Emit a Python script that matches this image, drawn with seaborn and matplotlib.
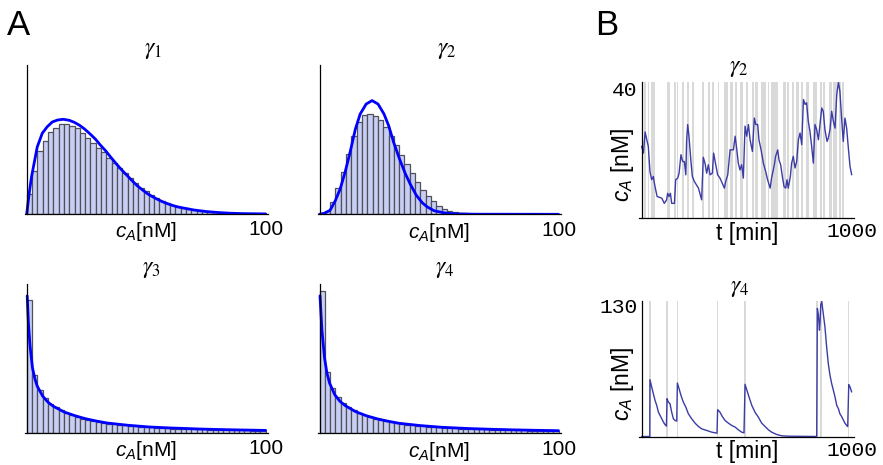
import matplotlib
matplotlib.use("Agg")
import matplotlib.pyplot as plt
import seaborn as sns

# ---------------- data ----------------
C_MAX = 100          # nM, histogram range
N_BINS = 45

# A: histogram heights (a.u.), one value per bin from 0 to 100 nM
hist_g1 = [20, 42.7, 63, 73, 82.3, 86.3, 89.7, 89.7, 88, 86.3,
           81.3, 76.3, 71.3, 66.3, 62.3, 56.3, 51.3, 46.3, 41.3, 35.7,
           30.7, 26.3, 23, 19, 16.3, 13, 10.7, 9, 7.3, 6,
           5, 4.2, 3.4, 2.8, 2.2, 1.7, 1.3, 1, 0.8, 0.6,
           0.4, 0.3, 0.2, 0.1, 0.1]
hist_g2 = [0.5, 3, 12, 26, 42, 60, 78, 92, 99.5, 100,
           98.5, 94, 87, 77.7, 69, 59.3, 50.5, 41, 32, 24.5,
           18, 13, 8.5, 5.5, 3.7, 2.4, 1.7, 1.1, 0.7, 0.4,
           0.3, 0.2, 0.1, 0.1, 0, 0, 0, 0, 0, 0,
           0, 0, 0, 0, 0]
hist_g3 = [132.7, 57.7, 43.3, 35, 29.3, 26, 22.7, 20, 17.7, 16,
           14.3, 13, 12, 11, 10, 9.3, 8.7, 8, 7.7, 7,
           6.7, 6.3, 6, 5.7, 5.3, 5, 4.7, 4.3, 4.3, 4.2,
           4.0, 3.8, 3.7, 3.5, 3.3, 3.2, 3.0, 2.9, 2.8, 2.7,
           2.6, 2.5, 2.4, 2.3, 2.2]
hist_g4 = [141.7, 61, 45, 36, 30, 26, 22.7, 20, 18, 16,
           14.7, 13.3, 12, 11, 10, 9.3, 8.7, 8, 7.7, 7,
           6.7, 6.3, 6, 5.7, 5.3, 5, 4.7, 4.3, 4.3, 4.2,
           4.0, 3.8, 3.7, 3.5, 3.3, 3.2, 3.0, 2.9, 2.8, 2.7,
           2.6, 2.5, 2.4, 2.3, 2.2]

# A: fitted densities (a.u.)
fit_g1_x = [0, 1, 2, 4.4, 6.5, 8.6, 10.7, 12.9, 15.3, 17.8, 19.9, 22.1, 24.2, 26.4,
            28.7, 30.8, 33.1, 35.2, 37.3, 39.5, 41.8, 44.1, 46.2, 48.5, 50.7, 53.1,
            55.3, 57.4, 59.6, 61.8, 64, 70, 75, 80, 85, 90, 100]
fit_g1_y = [0, 20, 37, 67, 80.7, 87.3, 92, 94, 94.7, 93.7, 91.7, 88.7, 85, 80.3,
            75, 69, 63, 56.7, 50.7, 44.7, 39, 33.3, 28.3, 24, 20, 16.7,
            14, 11.7, 9.7, 8, 6.7, 4, 2.5, 1.5, 0.8, 0.4, 0.1]
fit_g2_x = [0, 2, 4.4, 6.5, 8.6, 10.7, 12.8, 15, 17, 19.5, 22, 24.5, 27, 29, 31,
            33.5, 36, 38, 40.5, 43, 45, 48, 52, 56, 65, 100]
fit_g2_y = [0, 1, 4, 13, 25, 42, 62, 85, 100, 110, 113.5, 110, 100, 88, 72,
            55, 40, 30, 19, 11.5, 7.5, 3.5, 1.5, 0.5, 0.1, 0]
fit_g3_x = [0.2, 0.7, 1.4, 2.4, 3.5, 4.4, 6.7, 8.9, 11.1, 15.6, 20.1, 24.5, 29,
            33.5, 42.4, 51.3, 60.2, 64.1, 72, 80, 90, 100]
fit_g3_y = [136.7, 110, 86.7, 65, 53.3, 46.7, 36.7, 30.7, 26.7, 21, 17.3, 14.3, 12,
            10, 7.7, 6, 5, 4.7, 4.0, 3.5, 3.0, 2.6]
fit_g4_x = [0.2, 1.0, 2.1, 3.1, 4.2, 6.4, 8.6, 10.9, 15.3, 19.8, 24.3, 28.7, 33.2,
            42.1, 51.1, 60, 62.8, 72, 80, 90, 100]
fit_g4_y = [136.7, 103, 75, 60, 50, 38.3, 31.7, 27.3, 21.3, 17.3, 14.3, 12, 10,
            7.7, 6, 5, 4.7, 4.0, 3.5, 3.0, 2.6]

# B: trajectories c_A(t), t in min
traj_g2_t = [0, 9, 17, 25, 32, 40, 48, 56, 61, 67, 74, 88, 96, 108, 119, 124, 130,
             137, 143, 156, 162, 172, 178, 187, 195, 203, 210, 214, 219, 225, 235,
             241, 251, 270, 285, 293, 301, 309, 317, 325, 336, 342, 352, 361, 372,
             383, 393, 399, 409, 420, 436, 444, 451, 459, 467, 475, 483, 491, 499,
             507, 515, 526, 535, 542, 551, 557, 567, 578, 589, 598, 610, 617, 630,
             636, 646, 652, 660, 668, 676, 684, 690, 696, 706, 712, 720, 728, 736,
             744, 752, 760, 768, 776, 783, 791, 799, 807, 815, 823, 831, 839, 848,
             855, 862, 870, 880, 886, 894, 902, 910, 918, 926, 934, 941, 949, 957,
             965, 973, 981, 989, 997]
traj_g2_c = [22.2, 20.1, 26.6, 24.2, 22.2, 14.4, 11.9, 12.9, 10.8, 8.8, 6.7, 6.4,
             6.2, 4.6, 5.7, 7.7, 6.7, 7.7, 4.6, 4.6, 11.9, 12.4, 13.9, 19.6, 17.5,
             17.5, 13.4, 24.2, 28.9, 25.3, 17.0, 12.9, 11.3, 9.3, 5.7, 18.8, 17.0,
             13.9, 16.5, 13.4, 13.9, 20.1, 16.5, 13.4, 12.4, 10.8, 9.3, 11.3, 13.4,
             21.1, 21.1, 25.3, 21.7, 17.0, 14.9, 16.5, 12.4, 28.4, 25.3, 28.9, 24.2,
             20.6, 30.9, 28.9, 28.9, 24.2, 21.1, 17.0, 14.4, 11.9, 9.3, 12.4, 16.5,
             19.1, 21.1, 18.0, 16.5, 12.9, 9.8, 9.3, 11.9, 9.3, 12.9, 17.0, 19.1,
             15.5, 17.5, 24.2, 26.3, 22.7, 36.6, 35.1, 35.6, 29.9, 26.8, 22.2, 17.0,
             28.9, 27.3, 24.2, 29.9, 34.0, 33.0, 27.3, 23.7, 24.7, 27.3, 33.0, 29.9,
             27.8, 38.1, 42.0, 39.2, 30.9, 23.7, 30.9, 27.8, 21.7, 16.0, 13.4]
on_g2 = [(0, 9), (13, 21), (29, 36), (45, 64), (119, 135), (156, 162), (167, 172),
         (190, 203), (217, 225), (238, 251), (285, 298), (317, 325), (333, 345),
         (361, 368), (393, 412), (420, 436), (444, 452), (467, 479), (496, 507),
         (523, 532), (538, 551), (567, 589), (598, 605), (614, 649), (673, 684),
         (689, 700), (712, 725), (735, 747), (756, 767), (779, 794), (813, 831),
         (847, 855), (861, 871), (889, 902), (910, 926), (937, 946), (953, 962)]

traj_g4_t = [0, 39, 40, 48, 56, 64, 72, 80, 88, 96, 104, 112, 118, 121, 127, 135,
             143, 151, 159, 167, 170, 178, 187, 198, 210, 222, 238, 254, 270, 285,
             309, 333, 358, 361, 372, 383, 396, 412, 428, 444, 459, 475, 486, 491,
             499, 510, 523, 538, 554, 570, 586, 602, 617, 641, 665, 696, 831, 834,
             839, 844, 847, 850, 855, 858, 862, 870, 878, 886, 894, 902, 910, 918,
             926, 934, 941, 949, 957, 965, 973, 978, 983, 989, 997]
traj_g4_c = [0, 0, 56.2, 49, 42.3, 35.7, 30.8, 24.1, 20.8, 17.5, 14.2, 11.6, 10.3,
             37.4, 34.1, 32.4, 24.1, 17.5, 15.9, 15.2, 52.9, 47.3, 40.7, 34.1, 29.1,
             22.5, 17.5, 13.2, 9.9, 7.6, 6.0, 4.3, 3.3, 26.5, 24.1, 19.8, 15.9, 13.2,
             10.9, 9.3, 6.6, 4.3, 3.6, 51.6, 46.3, 39, 30.8, 24.1, 19.2, 13.2, 9.9,
             6.6, 4.3, 2.0, 0.7, 0.3, 0, 126.7, 120, 105.2, 113.5, 130, 133.5, 128.4,
             121.7, 108.5, 88.7, 72.1, 60.5, 52.3, 45.7, 39, 30.8, 27.5, 22.5, 19.8,
             16.5, 13.2, 10.9, 9.9, 51.3, 49, 44]
on_g4 = [(37, 44), (117, 124), (166, 173), (357, 365), (487, 494), (828, 838),
         (845, 856), (979, 986)]

# ---------------- style ----------------
sns.set_style("white")
plt.rcParams["font.family"] = ["Liberation Sans", "DejaVu Sans"]
plt.rcParams["mathtext.fontset"] = "custom"
plt.rcParams["mathtext.rm"] = "Liberation Sans"
plt.rcParams["mathtext.it"] = "Liberation Sans:italic"
for key in ["text.color", "axes.labelcolor", "xtick.color", "ytick.color"]:
    plt.rcParams[key] = "black"

BAR_FACE = "#c9cff3"
BAR_EDGE = "#50505c"
FIT_BLUE = "#0000ff"
TRAJ = "#3c3ca6"
BAND = "#d9d9d9"
MONO = "Liberation Mono"

W, H = 883, 465


def rect(left, top, width, height):
    return [left / W, 1 - (top + height) / H, width / W, height / H]


fig = plt.figure(figsize=(W / 100, H / 100), dpi=100)

edges = [C_MAX * i / N_BINS for i in range(N_BINS + 1)]
centers = [(a + b) / 2 for a, b in zip(edges[:-1], edges[1:])]

hist_panels = [
    (rect(24.8, 65, 243.3, 149), hist_g1, fit_g1_x, fit_g1_y, r"$\gamma_1$", 0.527),
    (rect(317.6, 65, 243.3, 149.3), hist_g2, fit_g2_x, fit_g2_y, r"$\gamma_2$", 0.531),
    (rect(24.8, 283.5, 243.3, 149.5), hist_g3, fit_g3_x, fit_g3_y, r"$\gamma_3$", 0.521),
    (rect(317.6, 283.5, 243.3, 149.8), hist_g4, fit_g4_x, fit_g4_y, r"$\gamma_4$", 0.523),
]

for pos, heights, fx, fy, title, tx in hist_panels:
    ax = fig.add_axes(pos)
    sns.histplot(x=centers, weights=heights, bins=edges, ax=ax, color=BAR_FACE,
                 edgecolor=BAR_EDGE, linewidth=0.9, alpha=1)
    sns.lineplot(x=fx, y=fy, ax=ax, color=FIT_BLUE, linewidth=2, sort=False,
                 estimator=None)
    ax.set_xlim(-0.8, 101)
    ax.set_ylim(0, 149)
    ax.set_xlabel("")
    ax.set_ylabel("")
    for s in ["top", "right"]:
        ax.spines[s].set_visible(False)
    ax.spines["left"].set_position(("data", 0))
    for s in ["left", "bottom"]:
        ax.spines[s].set_color("black")
        ax.spines[s].set_linewidth(0.9)
    ax.set_yticks([])
    ax.set_xticks([50, 100], [r"$c_A$[nM]", "100"], fontsize=15)
    ax.tick_params(axis="x", length=0, pad=4.5)
    ax.text(tx, 1.073, title, transform=ax.transAxes, ha="center", va="baseline",
            fontsize=17, math_fontfamily="stix")

traj_panels = [
    (rect(638.8, 81.7, 214.8, 136.6), traj_g2_t, traj_g2_c, on_g2, 42.1, 40,
     r"$\gamma_2$", 0.464),
    (rect(638.8, 301, 214.8, 135.5), traj_g4_t, traj_g4_c, on_g4, 134, 130,
     r"$\gamma_4$", 0.469),
]

for pos, t, c, bands, ytop, ytick, title, tx in traj_panels:
    ax = fig.add_axes(pos)
    for a, b in bands:
        ax.axvspan(a, b, color=BAND, lw=0, zorder=0)
    sns.lineplot(x=t, y=c, ax=ax, color=TRAJ, linewidth=1.0, sort=False,
                 estimator=None, zorder=2)
    ax.set_xlim(-13, 1006)
    ax.set_ylim(0, ytop)
    ax.set_xlabel("")
    for s in ["top", "right"]:
        ax.spines[s].set_visible(False)
    ax.spines["left"].set_position(("data", 0))
    for s in ["left", "bottom"]:
        ax.spines[s].set_color("black")
        ax.spines[s].set_linewidth(0.9)
        ax.spines[s].set_zorder(3)
    ax.set_yticks([ytick], [str(ytick)], fontfamily=MONO, fontsize=15.3)
    ax.set_xticks([1000], ["1000"], fontfamily=MONO, fontsize=15.3)
    ax.set_xticks([500], ["t [min]"], minor=True, fontsize=16.5)
    ax.tick_params(which="major", direction="in", length=6.5, width=0.9,
                   color="black", pad=3)
    ax.tick_params(which="minor", length=0, pad=2.5)
    ax.set_ylabel(r"$c_A$ [nM]", fontsize=16.5, va="center")
    ax.yaxis.set_label_coords(-0.078, 0.39)
    ax.text(tx, 1.07, title, transform=ax.transAxes, ha="center", va="baseline",
            fontsize=17, math_fontfamily="stix")

fig.text(7 / W, 1 - 35 / H, "A", fontsize=25, va="baseline", ha="left")
fig.text(595 / W, 1 - 35 / H, "B", fontsize=25, va="baseline", ha="left")

fig.savefig("out.png", dpi=100)
